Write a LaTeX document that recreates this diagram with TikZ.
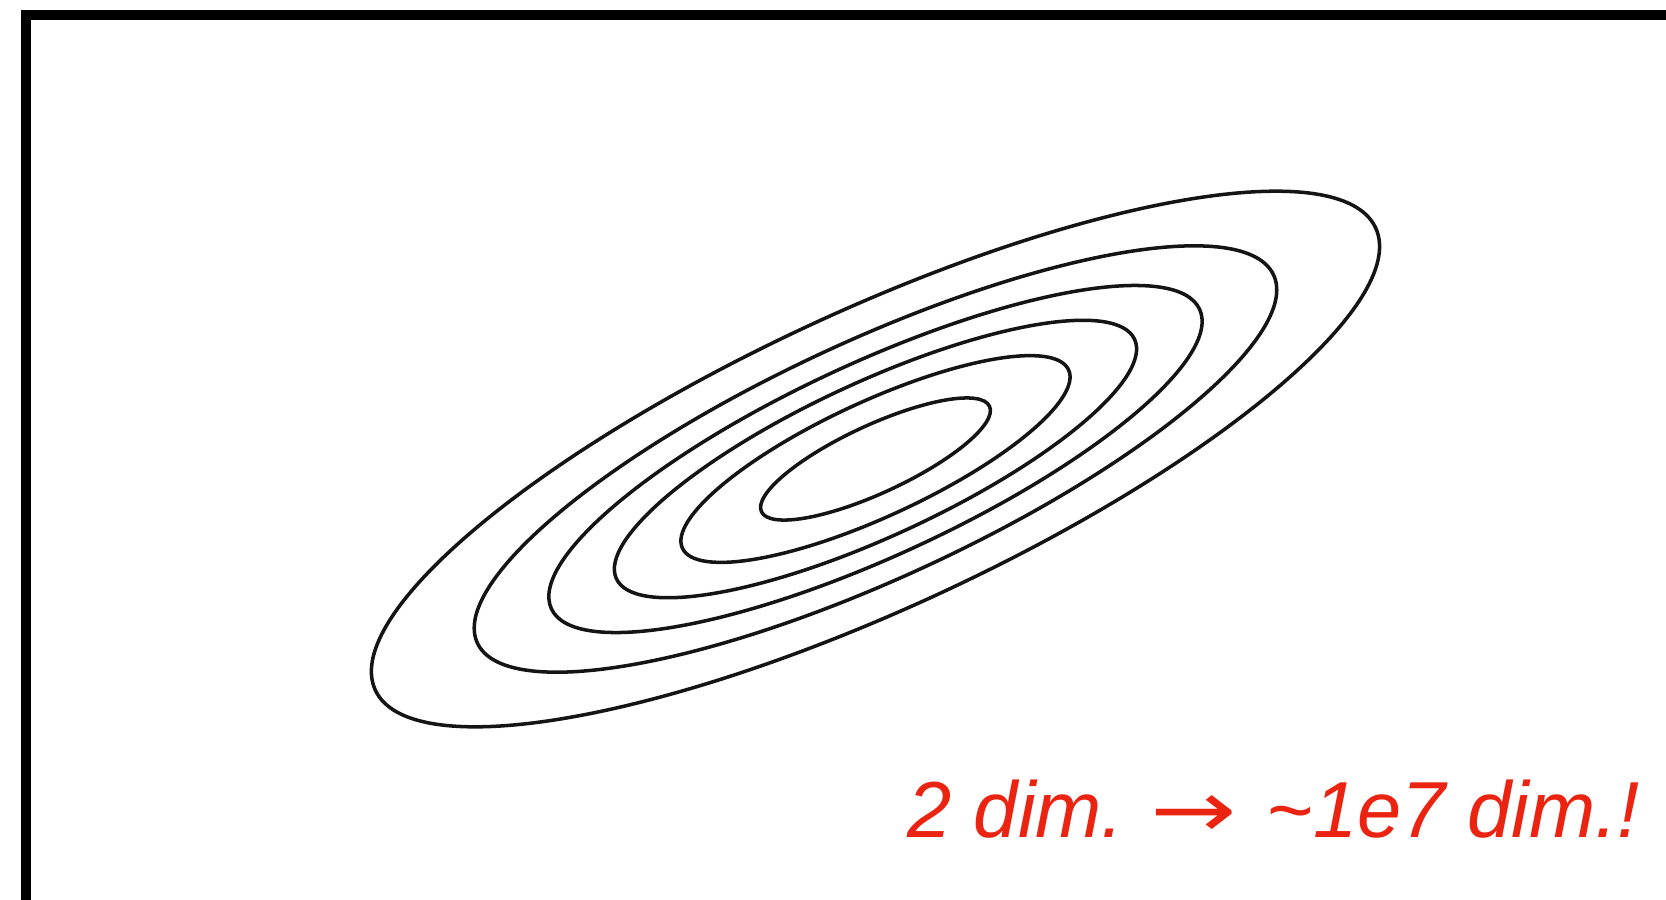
\documentclass[tikz,border=0pt]{standalone}
\usepackage{fontspec}
\setsansfont{Liberation Sans}
\newfontfamily\arrowfont{DejaVu Sans}
\definecolor{labelred}{RGB}{235,36,18}
\definecolor{contourcol}{RGB}{20,20,20}
\begin{document}
\begin{tikzpicture}[x=0.01cm,y=-0.01cm,
  contourline/.style={draw=contourcol, line width=1pt},
  framestyle/.style={draw=black, line width=0.1cm},
  labelstyle/.style={text=labelred, font=\fontsize{22.6pt}{27pt}\selectfont\sffamily\itshape, inner sep=0pt}]
\useasboundingbox (0,0) rectangle (1666,899);
\clip (0,0) rectangle (1666,899);
\fill[white] (0,0) rectangle (1666,899);
\draw[framestyle] (26,960) -- (26,15) -- (1730,15);
\coordinate (c) at (875.5,459);
\foreach \s in {1,0.796,0.648,0.518,0.386,0.228}
  \draw[contourline, rotate around={24.8:(c)}] (c) ellipse [x radius={551*\s}, y radius={149*\s}];
\node[labelstyle, anchor=base west] (label) at (907,837) {2 dim.\ \hspace{0.05em}{\arrowfont\upshape\scalebox{1.3}[1]{→}}\hspace{0.1em}\ \textasciitilde 1e7 dim.!};
\end{tikzpicture}
\end{document}
